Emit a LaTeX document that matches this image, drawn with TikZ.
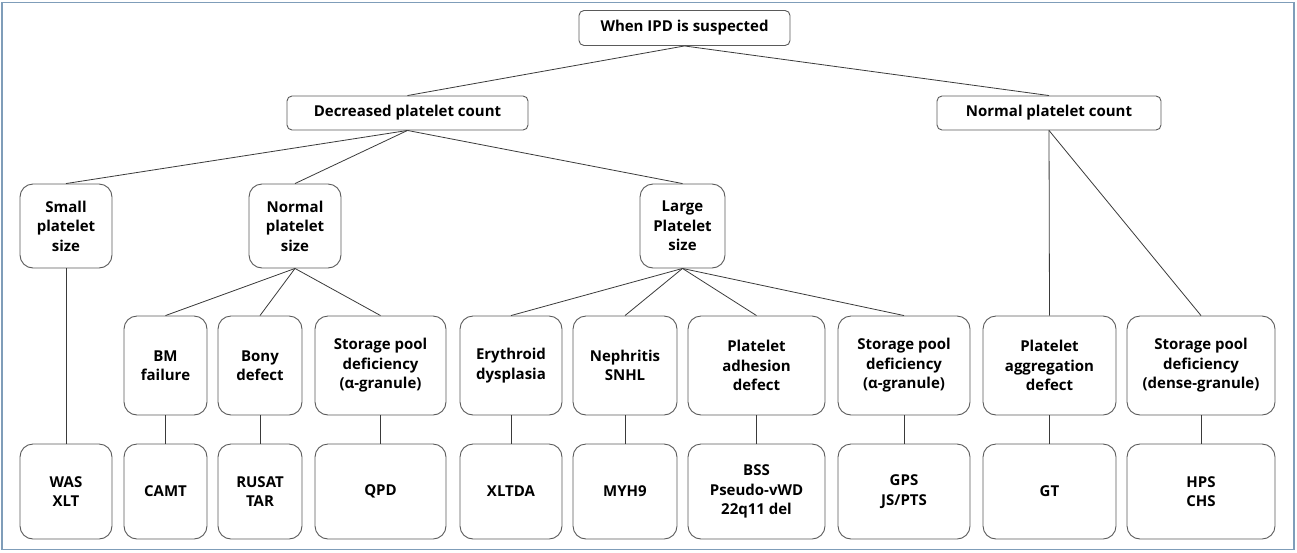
\documentclass[tikz,border=0pt]{standalone}
\usepackage{fontspec}
\setmainfont{Open Sans}
\definecolor{frame}{HTML}{7F9DB9}
\definecolor{boxline}{HTML}{5A5A5A}
\definecolor{edge}{HTML}{3A3A3A}
\tikzset{
  box/.style={draw=boxline, line width=0.9pt, fill=white, align=center, inner sep=0pt,
    font=\fontsize{15}{19.5}\selectfont\bfseries, text=black},
  topbox/.style={box, rounded corners=5pt, minimum height=35pt},
  bigbox/.style={box, rounded corners=13pt},
  conn/.style={draw=edge, line width=0.8pt}
}
\begin{document}
\begin{tikzpicture}[x=1pt,y=-1pt]
\useasboundingbox (0,0) rectangle (1297,552);
\draw[frame, line width=1.5pt] (2,2.5) rectangle (1294,549.5);
% level 0/1
\node[topbox, minimum width=211pt] (root) at (684.5,28) {When IPD is suspected};
\node[topbox, minimum width=241pt, minimum height=34pt] (dec) at (407.5,113) {Decreased platelet count};
\node[topbox, minimum width=224pt, minimum height=34pt] (nor) at (1049,113) {Normal platelet count};
% level 2
\node[bigbox, minimum width=92pt, minimum height=84pt] (small) at (66,226) {Small\\platelet\\size};
\node[bigbox, minimum width=92pt, minimum height=84pt] (nsize) at (295,226) {Normal\\platelet\\size};
\node[bigbox, minimum width=85pt, minimum height=84pt] (large) at (682.5,226) {Large\\Platelet\\size};
% level 3
\node[bigbox, minimum width=83pt, minimum height=99pt] (bm) at (165.5,365.5) {BM\\failure};
\node[bigbox, minimum width=84pt, minimum height=99pt] (bony) at (260,365.5) {Bony\\defect};
\node[bigbox, minimum width=131pt, minimum height=99pt] (spa) at (380.5,365.5) {Storage pool\\deficiency\\(α-granule)};
\node[bigbox, minimum width=102pt, minimum height=99pt] (ery) at (511,365.5) {Erythroid\\dysplasia};
\node[bigbox, minimum width=104pt, minimum height=99pt] (neph) at (625,365.5) {Nephritis\\SNHL};
\node[bigbox, minimum width=137pt, minimum height=99pt] (adh) at (756.5,365.5) {Platelet\\adhesion\\defect};
\node[bigbox, minimum width=132pt, minimum height=99pt] (spb) at (904,365.5) {Storage pool\\deficiency\\(α-granule)};
\node[bigbox, minimum width=133pt, minimum height=99pt] (agg) at (1049.5,365.5) {Platelet\\aggregation\\defect};
\node[bigbox, minimum width=148pt, minimum height=99pt] (spd) at (1201,365.5) {Storage pool\\deficiency\\(dense-granule)};
% level 4
\node[bigbox, minimum width=92pt, minimum height=95pt] (was) at (66,491.5) {WAS\\XLT};
\node[bigbox, minimum width=83pt, minimum height=95pt] (camt) at (165.5,491.5) {CAMT};
\node[bigbox, minimum width=84pt, minimum height=95pt] (rusat) at (260,491.5) {RUSAT\\TAR};
\node[bigbox, minimum width=131pt, minimum height=95pt] (qpd) at (380.5,491.5) {QPD};
\node[bigbox, minimum width=102pt, minimum height=95pt] (xltda) at (511,491.5) {XLTDA};
\node[bigbox, minimum width=104pt, minimum height=95pt] (myh) at (625,491.5) {MYH9};
\node[bigbox, minimum width=137pt, minimum height=95pt] (bss) at (756.5,491.5) {BSS\\Pseudo-vWD\\22q11 del};
\node[bigbox, minimum width=132pt, minimum height=95pt] (gps) at (904,491.5) {GPS\\JS/PTS};
\node[bigbox, minimum width=133pt, minimum height=95pt] (gt) at (1049.5,491.5) {GT};
\node[bigbox, minimum width=148pt, minimum height=95pt] (hps) at (1201,491.5) {HPS\\CHS};
% connectors
\draw[conn] (root.south) -- (dec.north);
\draw[conn] (root.south) -- (nor.north);
\draw[conn] (dec.south) -- (small.north);
\draw[conn] (dec.south) -- (nsize.north);
\draw[conn] (dec.south) -- (large.north);
\draw[conn] (nor.south) -- (agg.north);
\draw[conn] (nor.south) -- (spd.north);
\draw[conn] (small.south) -- (was.north);
\draw[conn] (nsize.south) -- (bm.north);
\draw[conn] (nsize.south) -- (bony.north);
\draw[conn] (nsize.south) -- (spa.north);
\draw[conn] (large.south) -- (ery.north);
\draw[conn] (large.south) -- (neph.north);
\draw[conn] (large.south) -- (adh.north);
\draw[conn] (large.south) -- (spb.north);
\draw[conn] (bm.south) -- (camt.north);
\draw[conn] (bony.south) -- (rusat.north);
\draw[conn] (spa.south) -- (qpd.north);
\draw[conn] (ery.south) -- (xltda.north);
\draw[conn] (neph.south) -- (myh.north);
\draw[conn] (adh.south) -- (bss.north);
\draw[conn] (spb.south) -- (gps.north);
\draw[conn] (agg.south) -- (gt.north);
\draw[conn] (spd.south) -- (hps.north);
\end{tikzpicture}
\end{document}
